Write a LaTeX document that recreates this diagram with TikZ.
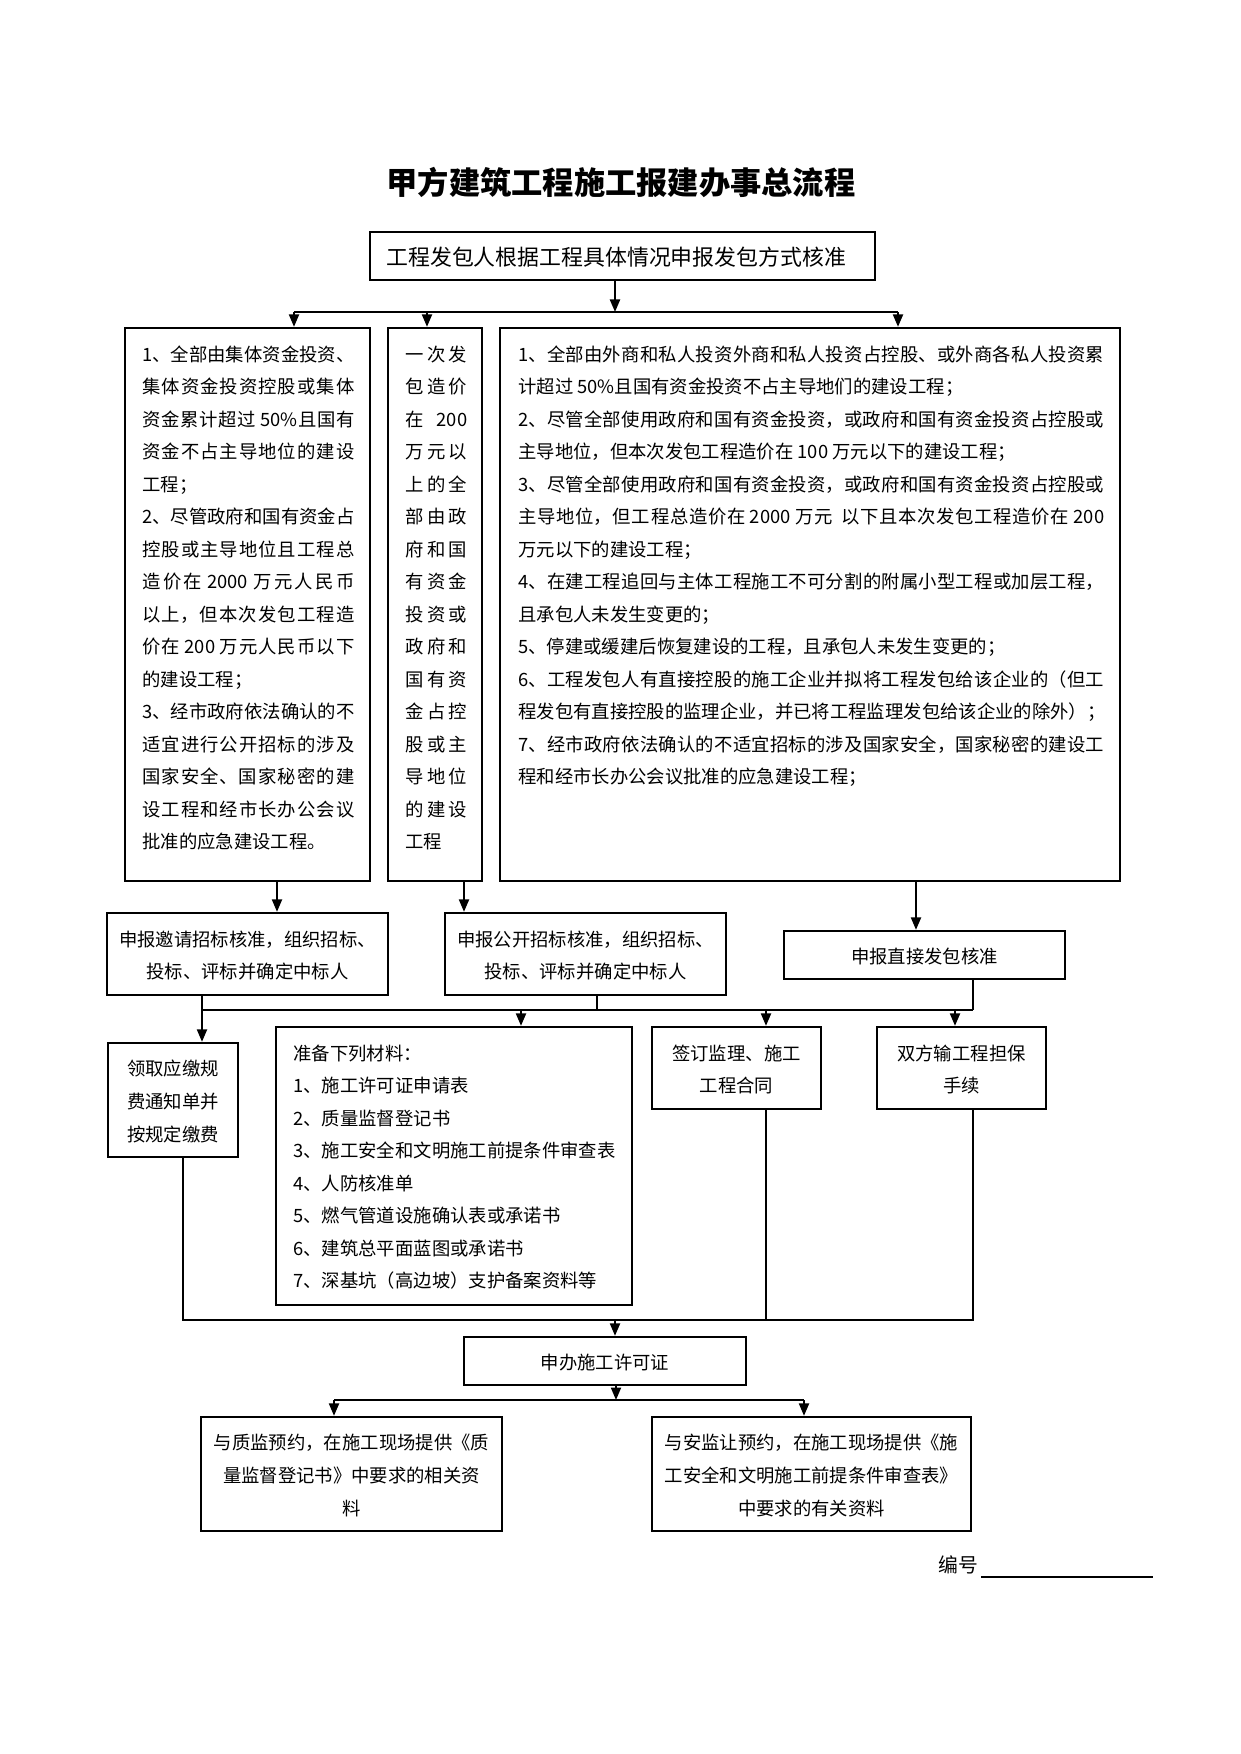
\documentclass[tikz,border=0pt]{standalone}
\usepackage{fontspec}
\setmainfont{Noto Sans CJK SC}
\usetikzlibrary{arrows.meta,fit}
\XeTeXlinebreaklocale "zh"
\XeTeXlinebreakskip=0pt plus 2pt
\XeTeXlinebreakpenalty=10000
\begin{document}
\begin{tikzpicture}[x=0.4797pt,y=-0.4797pt,
  box/.style={draw,line width=1.1pt,inner sep=0pt},
  ctext/.style={align=center,inner sep=0pt,yshift=-0.7pt,font=\fontsize{8.8}{15.6}\selectfont},
  para/.style={inner sep=0pt,anchor=base west,font=\fontsize{8.8}{15.6}\selectfont},
  ln/.style={line width=1pt},
  thinln/.style={line width=0.5pt},
  arr/.style={line width=1pt,-{Triangle[length=6pt,width=4.8pt]}}]
\useasboundingbox (0,0) rectangle (1241,1754);

\node[font=\fontsize{15}{18}\selectfont\bfseries] (title) at (621,182) {甲方建筑工程施工报建办事总流程};

% boxes
\node[box,fit={(370,232) (875,280)}] (T) {};
\node[ctext,xshift=-3pt,font=\fontsize{10.5}{13}\selectfont] (Tt) at (T.center) {工程发包人根据工程具体情况申报发包方式核准};
\node[box,fit={(125,328) (370,881)}] (L) {};
\node[box,fit={(388,328) (482,881)}] (M) {};
\node[box,fit={(500,328) (1120,881)}] (R) {};

\node[para,text width=101.7pt,align=justify] (Lt) at (142,361) {1、全部由集体资金投资、\linebreak
集体资金投资控股或集体\linebreak
资金累计超过~50\%且国有\linebreak
资金不占主导地位的建设\linebreak
工程；\par
2、尽管政府和国有资金占\linebreak
控股或主导地位且工程总\linebreak
造价在~2000~万元人民币\linebreak
以上，但本次发包工程造\linebreak
价在~200~万元人民币以下\linebreak
的建设工程；\par
3、经市政府依法确认的不\linebreak
适宜进行公开招标的涉及\linebreak
国家安全、国家秘密的建\linebreak
设工程和经市长办公会议\linebreak
批准的应急建设工程。};

\node[para,text width=29.7pt,align=justify] (Mt) at (405,361) {一次发\linebreak
包造价\linebreak
在~200\linebreak
万元以\linebreak
上的全\linebreak
部由政\linebreak
府和国\linebreak
有资金\linebreak
投资或\linebreak
政府和\linebreak
国有资\linebreak
金占控\linebreak
股或主\linebreak
导地位\linebreak
的建设\linebreak
工程};

\node[para,text width=281pt,align=justify] (Rt) at (518,361) {1、全部由外商和私人投资外商和私人投资占控股、或外商各私人投资累\linebreak
计超过~50\%且国有资金投资不占主导地们的建设工程；\par
2、尽管全部使用政府和国有资金投资，或政府和国有资金投资占控股或\linebreak
主导地位，但本次发包工程造价在~100~万元以下的建设工程；\par
3、尽管全部使用政府和国有资金投资，或政府和国有资金投资占控股或\linebreak
主导地位，但工程总造价在~2000~万元~~以下且本次发包工程造价在~200\linebreak
万元以下的建设工程；\par
4、在建工程追回与主体工程施工不可分割的附属小型工程或加层工程，\linebreak
且承包人未发生变更的；\par
5、停建或缓建后恢复建设的工程，且承包人未发生变更的；\par
6、工程发包人有直接控股的施工企业并拟将工程发包给该企业的（但工\linebreak
程发包有直接控股的监理企业，并已将工程监理发包给该企业的除外）；\par
7、经市政府依法确认的不适宜招标的涉及国家安全，国家秘密的建设工\linebreak
程和经市长办公会议批准的应急建设工程；};

\node[box,fit={(107,913) (388,995)}] (A) {};
\node[ctext] (At) at (A.center) {申报邀请招标核准，组织招标、\\投标、评标并确定中标人};
\node[box,fit={(445,913) (726,995)}] (B) {};
\node[ctext] (Bt) at (B.center) {申报公开招标核准，组织招标、\\投标、评标并确定中标人};
\node[box,fit={(784,931) (1065,979)}] (C) {};
\node[ctext] (Ct) at (C.center) {申报直接发包核准};

\node[box,fit={(108,1043) (238,1157)}] (D) {};
\node[ctext] (Dt) at (D.center) {领取应缴规\\费通知单并\\按规定缴费};
\node[box,fit={(276,1027) (632,1305)}] (E) {};
\node[para,text width=165pt,align=left] (Et) at (293,1060) {准备下列材料：\\
1、施工许可证申请表\\
2、质量监督登记书\\
3、施工安全和文明施工前提条件审查表\\
4、人防核准单\\
5、燃气管道设施确认表或承诺书\\
6、建筑总平面蓝图或承诺书\\
7、深基坑（高边坡）支护备案资料等};
\node[box,fit={(652,1027) (821,1109)}] (F) {};
\node[ctext] (Ft) at (F.center) {签订监理、施工\\工程合同};
\node[box,fit={(877,1027) (1046,1109)}] (G) {};
\node[ctext] (Gt) at (G.center) {双方输工程担保\\手续};

\node[box,fit={(464,1337) (746,1385)}] (H) {};
\node[ctext] (Ht) at (H.center) {申办施工许可证};
\node[box,fit={(201,1417) (502,1531)}] (I) {};
\node[ctext] (It) at (I.center) {与质监预约，在施工现场提供《质\\量监督登记书》中要求的相关资\\料};
\node[box,fit={(652,1417) (971,1531)}] (J) {};
\node[ctext] (Jt) at (J.center) {与安监让预约，在施工现场提供《施\\工安全和文明施工前提条件审查表》\\中要求的有关资料};

\node[font=\fontsize{9.5}{12}\selectfont,inner sep=0pt,anchor=base east] (num) at (979,1572) {编号};
\coordinate (u1) at (981,1577);
\coordinate (u2) at (1153,1577);
\draw[thinln] (u1) -- (u2);

% level 1 connectors
\coordinate (b1) at (615,312);
\coordinate (b1L) at (294,312);
\coordinate (b1M) at (427,312);
\coordinate (b1R) at (898,312);
\draw[arr] (T.south -| b1) -- (b1);
\draw[ln] (b1L) -- (b1R);
\draw[arr] (b1L) -- (b1L |- L.north);
\draw[arr] (b1M) -- (b1M |- M.north);
\draw[arr] (b1R) -- (b1R |- R.north);

% level 2
\coordinate (xA) at (277,0);
\coordinate (xB) at (464,0);
\coordinate (xC) at (916,0);
\draw[arr] (L.south -| xA) -- (A.north -| xA);
\draw[arr] (M.south -| xB) -- (B.north -| xB);
\draw[arr] (R.south -| xC) -- (C.north -| xC);

% bus 2
\coordinate (b2L) at (202,1010);
\coordinate (b2B) at (597,1010);
\coordinate (b2R) at (973,1010);
\coordinate (b2E) at (521,1010);
\coordinate (b2F) at (766,1010);
\coordinate (b2G) at (955,1010);
\draw[arr] (A.south -| b2L) -- (D.north -| b2L);
\draw[ln] (b2L) -- (b2R);
\draw[thinln] (B.south -| b2B) -- (b2B);
\draw[ln] (C.south -| b2R) -- (b2R);
\draw[arr] (b2E) -- (b2E |- E.north);
\draw[arr] (b2F) -- (b2F |- F.north);
\draw[arr] (b2G) -- (b2G |- G.north);

% bus 3
\coordinate (b3L) at (183,1320);
\coordinate (b3F) at (766,1320);
\coordinate (b3R) at (973,1320);
\coordinate (b3H) at (615,1320);
\draw[ln] (D.south -| b3L) -- (b3L) -- (b3R) -- (G.south -| b3R);
\draw[thinln] (F.south -| b3F) -- (b3F);
\draw[arr] (b3H) -- (b3H |- H.north);

% bus 4
\coordinate (b4) at (616,1400);
\coordinate (b4L) at (334,1400);
\coordinate (b4R) at (804,1400);
\draw[arr] (H.south -| b4) -- (b4);
\draw[ln] (b4L) -- (b4R);
\draw[arr] (b4L) -- (b4L |- I.north);
\draw[arr] (b4R) -- (b4R |- J.north);
\end{tikzpicture}
\end{document}
